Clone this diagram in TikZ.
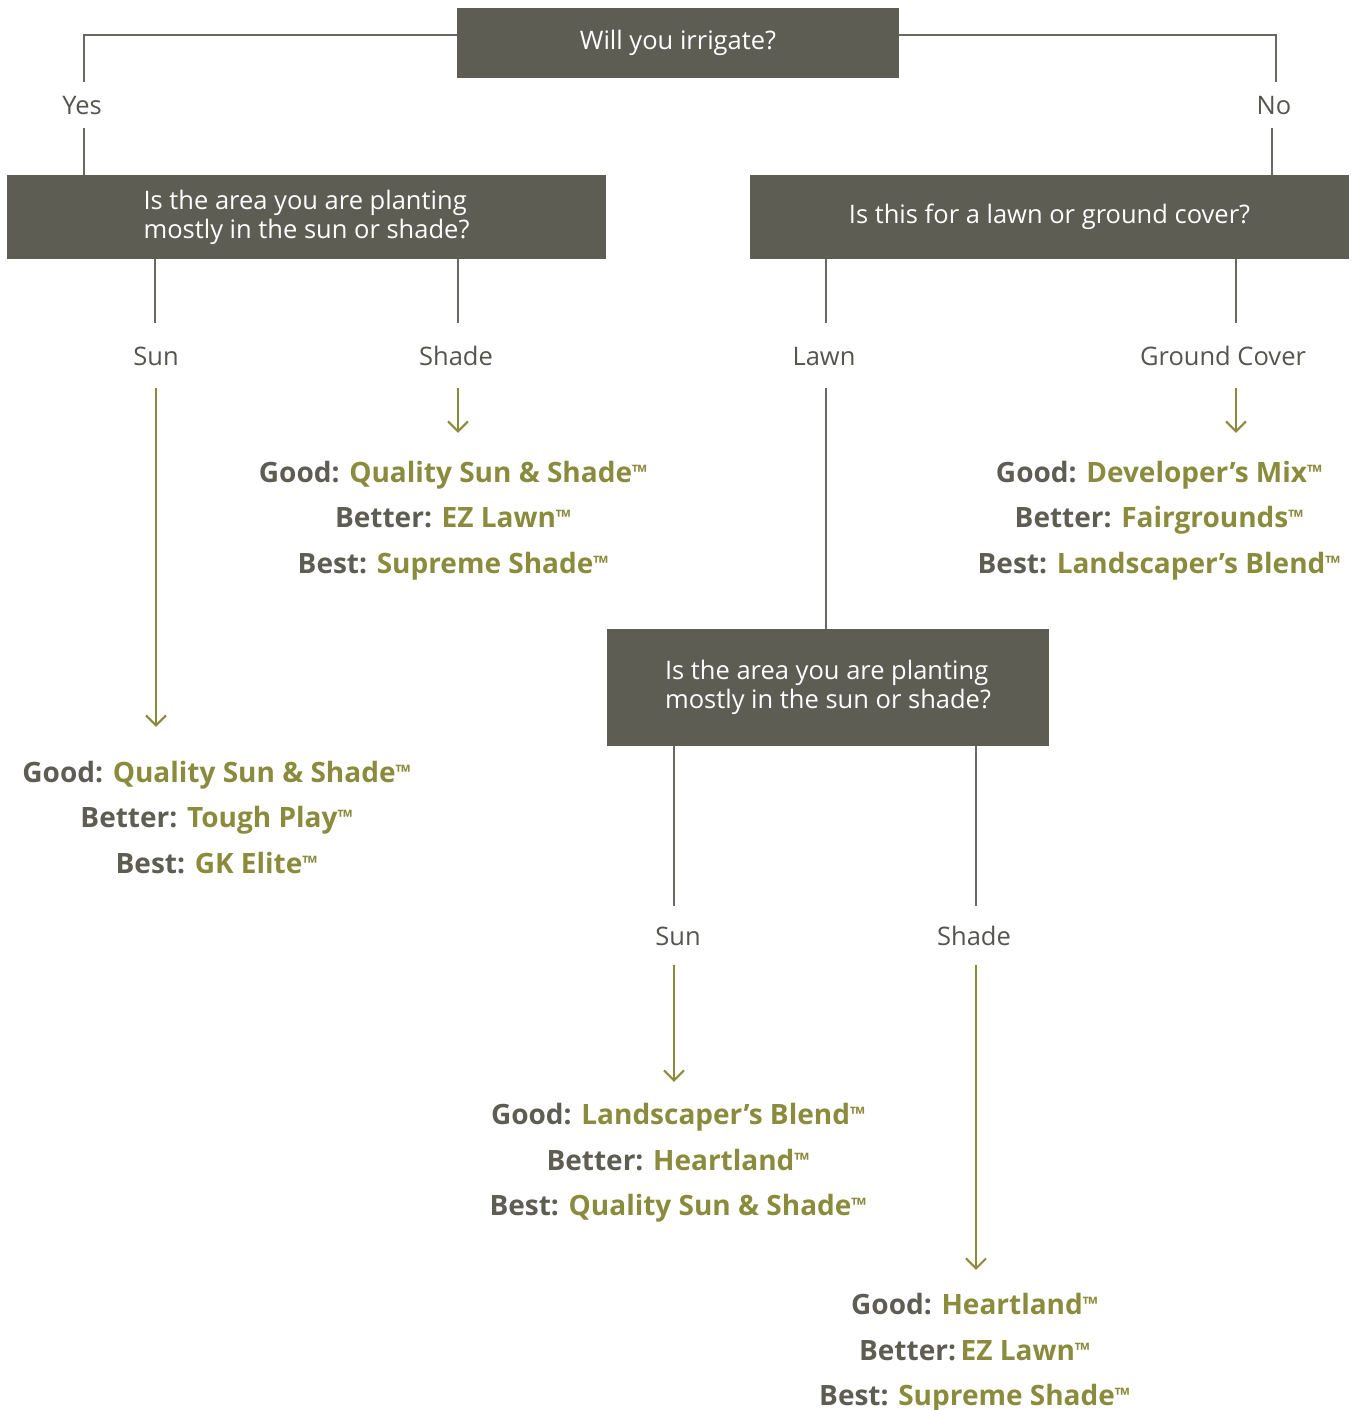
\documentclass[tikz,border=0pt]{standalone}
\usepackage{fontspec}
\setmainfont{Open Sans}
\usetikzlibrary{arrows.meta}
\definecolor{boxgray}{RGB}{93,93,83}
\definecolor{linegray}{RGB}{105,105,100}
\definecolor{olive}{RGB}{138,139,61}
\definecolor{lblgray}{RGB}{85,85,80}
\newcommand\tmk{{\fontsize{20}{20}\selectfont\raisebox{3pt}{™}}}
\begin{document}
\begin{tikzpicture}[x=1pt,y=-1pt,
  qbox/.style={fill=boxgray, text=white, font=\fontsize{25.5}{29}\selectfont, inner sep=0, align=left},
  lbl/.style={font=\fontsize{25.5}{28}\selectfont, text=lblgray, inner sep=0, text height=19pt, text depth=0pt},
  ln/.style={draw=linegray, line width=2pt},
  arr/.style={draw=olive, line width=2pt, -{Straight Barb[length=10pt,width=20pt,line width=2pt]}},
  res/.style={font=\bfseries\fontsize{28}{30}\selectfont, text=boxgray, inner sep=0, text height=20pt, text depth=6pt, anchor=base},
]
\useasboundingbox (0,0) rectangle (1352,1410);

% question boxes
\node[qbox, minimum width=442pt, minimum height=70pt] (q1) at (678,43) {Will you irrigate?};
\node[qbox, minimum width=599pt, minimum height=84pt] (qL) at (306.5,217) {Is the area you are planting\\mostly in the sun or shade?};
\node[qbox, minimum width=599pt, minimum height=84pt] (qR) at (1049.5,217) {Is this for a lawn or ground cover?};
\node[qbox, minimum width=442pt, minimum height=117pt] (q3) at (828,687.5) {Is the area you are planting\\mostly in the sun or shade?};

% labels
\node[lbl, minimum height=46pt] (yesL) at (82,105) {Yes};
\node[lbl, minimum height=46pt] (noL) at (1274,105) {No};
\node[lbl, minimum height=65pt] (sunL) at (156,355.5) {Sun};
\node[lbl, minimum height=65pt] (shadeL) at (456,355.5) {Shade};
\node[lbl, minimum height=65pt] (lawnL) at (824,355.5) {Lawn};
\node[lbl, minimum height=65pt] (gcL) at (1223,355.5) {Ground Cover};
\node[lbl, minimum height=59pt] (sun2L) at (678,935.5) {Sun};
\node[lbl, minimum height=59pt] (shade2L) at (974,935.5) {Shade};

% results
\node[res] (ra1) at (216.5,782) {Good: {\color{olive}Quality Sun \& Shade\tmk}};
\node[res] (ra2) at (216.5,827) {Better: {\color{olive}Tough Play\tmk}};
\node[res] (ra3) at (216.5,873) {Best: {\color{olive}GK Elite\tmk}};

\node[res] (rb1) at (453,482) {Good: {\color{olive}Quality Sun \& Shade\tmk}};
\node[res] (rb2) at (453,527) {Better: {\color{olive}EZ Lawn\tmk}};
\node[res] (rb3) at (453,573) {Best: {\color{olive}Supreme Shade\tmk}};

\node[res] (rc1) at (1159,482) {Good: {\color{olive}Developer’s Mix\tmk}};
\node[res] (rc2) at (1159,527) {Better: {\color{olive}Fairgrounds\tmk}};
\node[res] (rc3) at (1159,573) {Best: {\color{olive}Landscaper's Blend\tmk}};

\node[res] (rd1) at (678,1124) {Good: {\color{olive}Landscaper’s Blend\tmk}};
\node[res] (rd2) at (678,1170) {Better: {\color{olive}Heartland\tmk}};
\node[res] (rd3) at (678,1215) {Best: {\color{olive}Quality Sun \& Shade\tmk}};

\node[res] (re1) at (974.5,1314) {Good: {\color{olive}Heartland\tmk}};
\node[res] (re2) at (974.5,1360) {Better:\,{\color{olive}EZ Lawn\tmk}};
\node[res] (re3) at (974.5,1405) {Best: {\color{olive}Supreme Shade\tmk}};

% top connectors
\draw[ln] ([yshift=8pt]q1.west) -| ([xshift=2pt]yesL.north);
\draw[ln] ([xshift=2pt]yesL.south) -- ([xshift=2pt]yesL.south |- qL.north);
\draw[ln] ([yshift=8pt]q1.east) -| ([xshift=2pt]noL.north);
\draw[ln] ([xshift=-2pt]noL.south) -- ([xshift=-2pt]noL.south |- qR.north);

% left box connectors
\draw[ln] ([xshift=-1pt]sunL.north |- qL.south) -- ([xshift=-1pt]sunL.north);
\draw[ln] ([xshift=2pt]shadeL.north |- qL.south) -- ([xshift=2pt]shadeL.north);
\draw[arr, shorten >=35pt] (sunL.south) -- (sunL.south |- ra1.north);
\draw[arr, shorten >=29pt] ([xshift=2pt]shadeL.south) -- ([xshift=2pt]shadeL.south |- rb1.north);

% right box connectors
\draw[ln] ([xshift=2pt]lawnL.north |- qR.south) -- ([xshift=2pt]lawnL.north);
\draw[ln] ([xshift=13pt]gcL.north |- qR.south) -- ([xshift=13pt]gcL.north);
\draw[ln] ([xshift=2pt]lawnL.south) -- ([xshift=2pt]lawnL.south |- q3.north);
\draw[arr, shorten >=29pt] ([xshift=13pt]gcL.south) -- ([xshift=13pt]gcL.south |- rc1.north);

% lower box connectors
\draw[ln] ([xshift=-4pt]sun2L.north |- q3.south) -- ([xshift=-4pt]sun2L.north);
\draw[ln] ([xshift=2pt]shade2L.north |- q3.south) -- ([xshift=2pt]shade2L.north);
\draw[arr, shorten >=22pt] ([xshift=-4pt]sun2L.south) -- ([xshift=-4pt]sun2L.south |- rd1.north);
\draw[arr, shorten >=24pt] ([xshift=2pt]shade2L.south) -- ([xshift=2pt]shade2L.south |- re1.north);
\end{tikzpicture}
\end{document}
